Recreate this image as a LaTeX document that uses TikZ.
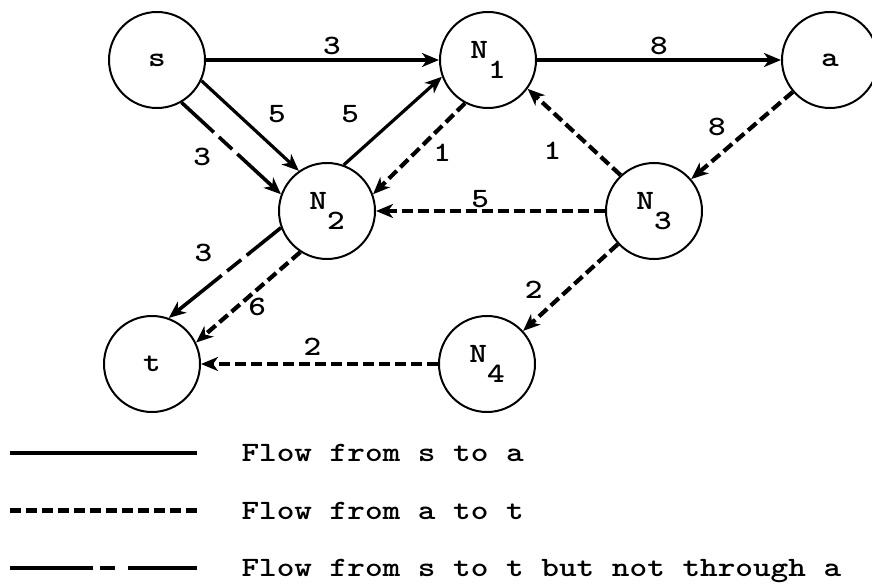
\documentclass[tikz,border=0pt]{standalone}
\usepackage{fontspec}
\setmonofont{lmmonolt10-bold.otf}[FakeStretch=1.2]
\usetikzlibrary{automata,positioning,arrows.meta}

% lowered typewriter subscript
\newcommand{\nsub}[1]{\raisebox{-0.7em}{#1}}

\tikzset{
  every state/.style={draw,line width=2pt,minimum size=96pt,inner sep=0pt},
  flowsa/.style={line width=3.2pt},
  flowat/.style={line width=4.2pt,dash pattern=on 11pt off 5pt},
  flowst/.style={line width=3.6pt,dash pattern=on 44pt off 7pt on 18pt off 7pt on 200pt off 1pt},
  keyst/.style={line width=3.6pt,dash pattern=on 83pt off 7pt on 15pt off 13pt on 200pt off 1pt},
}

\begin{document}
\begin{tikzpicture}[>={Stealth[length=17pt,width=14pt,inset=5pt]},
    on grid,font=\fontsize{28}{32}\selectfont\ttfamily]
   \useasboundingbox (-157pt,60pt) rectangle (715pt,-528pt);
   \node[state] (s)  {s};
   \node[state] (N1) [right=331pt of s] {N\nsub{1}};
   \node[state] (a)  [right=342pt of N1] {a};
   \node[state] (N2) [below right=151pt and 170pt of s] {N\nsub{2}};
   \node[state] (N3) [right=327pt of N2] {N\nsub{3}};
   \node[state] (t)  [below left=153pt and 175pt of N2] {t};
   \node[state] (N4) [right=335pt of t] {N\nsub{4}};
    \path[->]
    % s to a
    (s)      edge[flowsa] node[pos=.54,yshift=14pt] {3} (N1)
    (N1)     edge[flowsa] node[yshift=14pt] {8} (a)
    (s.-25)  edge[flowsa] node[pos=.59,xshift=18pt,yshift=20pt] {5} (N2.125)
    (N2.70)  edge[flowsa] node[pos=.3,xshift=-23pt,yshift=24pt] {5} (N1.200)
    % a to t
    (a)      edge[flowat] node[pos=.6,xshift=-15pt,yshift=17pt] {8} (N3)
    (N3.133) edge[flowat] node[pos=.53,xshift=-19pt,yshift=-21pt] {1} (N1.-36)
    (N1.-118) edge[flowat] node[pos=.39,xshift=13pt,yshift=-14pt] {1} (N2.20)
    (N3)     edge[flowat] node[pos=.545,yshift=12pt] {5} (N2)
    (N3)     edge[flowat] node[pos=.72,xshift=-16pt,yshift=17pt] {2} (N4)
    (N4)     edge[flowat] node[pos=.53,yshift=17pt] {2} (t)
    (N2.237) edge[flowat] node[pos=.5,xshift=9pt,yshift=-10pt] {6} (t.26)
    % s to t
    (s.-60)  edge[flowst] node[pos=.39,xshift=-18pt,yshift=-19pt] {3} (N2.160)
    (N2.200) edge[flowst] node[pos=.53,xshift=-18pt,yshift=23pt] {3} (t.70);
    % key
    \foreach \sty/\txt [count=\i] in {flowsa/Flow from s to a,flowat/Flow from a to t,keyst/Flow from s to t but not through a} {
      \draw[\sty] (-147pt,-335.5pt-57.5pt*\i) -- ++(187pt,0);
      \node[anchor=base west] at (81pt,-344pt-57.5pt*\i) {\txt};
    }
\end{tikzpicture}
\end{document}
